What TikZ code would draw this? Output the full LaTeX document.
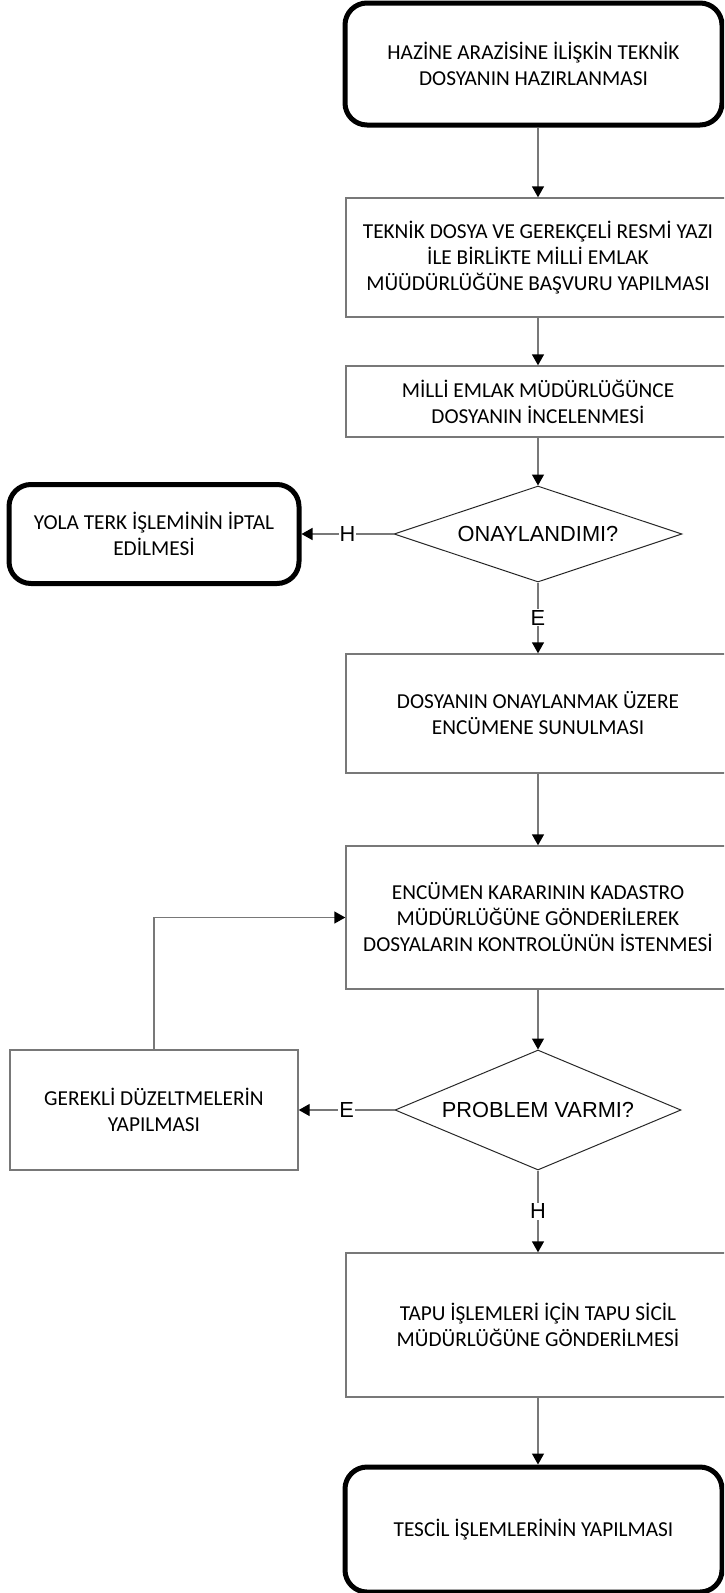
\documentclass[tikz,border=0pt]{standalone}
\usepackage{fontspec}
\setmainfont{Carlito}
\newfontfamily\diafont{Liberation Sans}
\usetikzlibrary{shapes.geometric, arrows.meta}
\definecolor{mygray}{RGB}{120,120,120}
\definecolor{mydark}{RGB}{40,40,40}

\tikzset{
    process/.style={draw=mygray, line width=1.4pt, rectangle, align=center,
        minimum width=384pt, inner sep=0pt, font=\fontsize{21.3}{26}\selectfont},
    terminal/.style={draw=black, line width=5pt, rectangle, rounded corners=22pt,
        align=center, inner sep=0pt, font=\fontsize{21.3}{26}\selectfont},
    decision/.style={draw=mydark, line width=1pt, diamond, aspect=3, inner sep=0pt,
        font=\diafont\fontsize{21.8}{25}\selectfont},
    arr/.style={draw=mygray, line width=1.4pt,
        -{Triangle[length=11pt, width=12pt, color=black, fill=black]}},
    lbl/.style={fill=white, inner sep=1pt, font=\diafont\fontsize{21.8}{25}\selectfont}
}

\begin{document}
\begin{tikzpicture}[x=1pt, y=-1pt]
    \useasboundingbox (0,0) rectangle (724,1593);
    \clip (0,0) rectangle (724,1593);

    % main column
    \node[terminal, minimum width=377pt, minimum height=122pt] (t1) at (533.5, 64)
        {HAZİNE ARAZİSİNE İLİŞKİN TEKNİK\\DOSYANIN HAZIRLANMASI};
    \node[process, minimum height=119pt] (b2) at (538, 257.5)
        {TEKNİK DOSYA VE GEREKÇELİ RESMİ YAZI\\İLE BİRLİKTE MİLLİ EMLAK\\MÜÜDÜRLÜĞÜNE BAŞVURU YAPILMASI};
    \node[process, minimum height=71pt] (b3) at (538, 401.5)
        {MİLLİ EMLAK MÜDÜRLÜĞÜNCE\\DOSYANIN İNCELENMESİ};
    \node[decision, minimum width=288pt, minimum height=96pt] (d1) at (538, 534)
        {ONAYLANDIMI?};
    \node[terminal, minimum width=290pt, minimum height=99pt] (tl) at (154, 534)
        {YOLA TERK İŞLEMİNİN İPTAL\\EDİLMESİ};
    \node[process, minimum height=119pt] (b4) at (538, 713.5)
        {DOSYANIN ONAYLANMAK ÜZERE\\ENCÜMENE SUNULMASI};
    \node[process, minimum height=143pt] (b5) at (538, 917.5)
        {ENCÜMEN KARARININ KADASTRO\\MÜDÜRLÜĞÜNE GÖNDERİLEREK\\DOSYALARIN KONTROLÜNÜN İSTENMESİ};
    \node[decision, minimum width=286pt, minimum height=120pt] (d2) at (538, 1110)
        {PROBLEM VARMI?};
    \node[process, minimum width=288pt, minimum height=120pt] (bl) at (154, 1110)
        {GEREKLİ DÜZELTMELERİN\\YAPILMASI};
    \node[process, minimum height=144pt] (b6) at (538, 1325)
        {TAPU İŞLEMLERİ İÇİN TAPU SİCİL\\MÜDÜRLÜĞÜNE GÖNDERİLMESİ};
    \node[terminal, minimum width=377pt, minimum height=125pt] (t2) at (533.5, 1529.5)
        {TESCİL İŞLEMLERİNİN YAPILMASI};

    % connectors
    \draw[arr] (t1.south -| b2.north) -- (b2.north);
    \draw[arr] (b2.south) -- (b3.north);
    \draw[arr] (b3.south) -- (d1.north);
    \draw[arr] (d1.west) -- node[lbl] {H} (tl.east);
    \draw[arr] (d1.south) -- node[lbl] {E} (b4.north);
    \draw[arr] (b4.south) -- (b5.north);
    \draw[arr] (b5.south) -- (d2.north);
    \draw[arr] (d2.west) -- node[lbl] {E} (bl.east);
    \draw[arr] (bl.north) |- (b5.west);
    \draw[arr] (d2.south) -- node[lbl] {H} (b6.north);
    \draw[arr] (b6.south) -- (t2.north -| b6.south);
\end{tikzpicture}
\end{document}
